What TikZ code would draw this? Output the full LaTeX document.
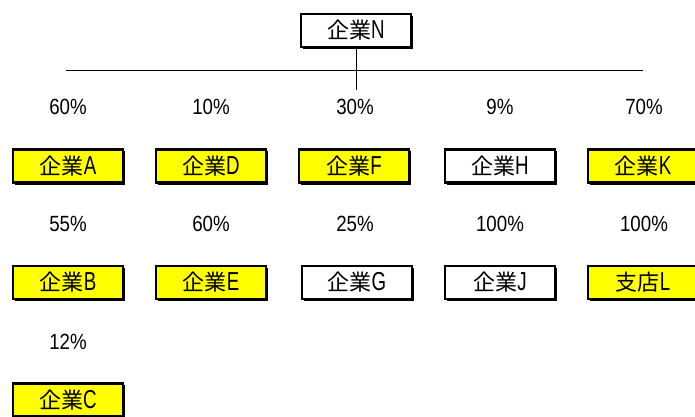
\documentclass[tikz,border=0pt]{standalone}
\usepackage{fontspec}
\newfontfamily\cjkf{Noto Sans CJK JP}
\newfontfamily\latf{Liberation Sans}[FakeStretch=0.72]
\newfontfamily\pctf{Liberation Sans}[FakeStretch=0.85]
\newcommand\lbl[2]{{\cjkf\fontsize{22}{23}\selectfont #1}{\latf\fontsize{26}{27}\selectfont #2}}
\definecolor{boxyellow}{RGB}{255,255,0}
\tikzset{
  company/.style={draw=black, line width=2.4pt, minimum width=110pt, minimum height=33pt,
    inner sep=0pt, outer sep=0pt, text=black},
  yel/.style={company, fill=boxyellow},
  wht/.style={company, fill=white},
  pct/.style={font=\pctf\fontsize{22}{22}\selectfont, inner sep=0pt},
  link/.style={draw=black, line width=1pt}
}
\begin{document}
\begin{tikzpicture}[x=1pt,y=-1pt]
\useasboundingbox (0,0) rectangle (695,416);
\fill[white] (0,0) rectangle (695,416);
% shadows
\foreach \cx/\cy in {356/30.5,68/166,211/166,354/166,500/166,643/166,68/282.5,211/282.5,357/282.5,500/282.5,643/282.5,68/400}{
  \fill[black] (\cx-55+1.5,\cy-16.5+1.5) rectangle (\cx+55+2,\cy+16.5+2);
}
\node[wht] (N) at (356,30.5) {\lbl{企業}{N}};
\coordinate (hl) at (66,70);
\coordinate (hr) at (643,70);
\coordinate (vb) at (356,90);
\draw[link] (hl) -- (hr);
\draw[link] (N.south) -- (vb);

\node[pct] (pA) at (68,107) {60\%};
\node[pct] (pD) at (211,107) {10\%};
\node[pct] (pF) at (355,107) {30\%};
\node[pct] (pH) at (500,107) {9\%};
\node[pct] (pK) at (644,107) {70\%};

\node[yel] (A) at (68,166) {\lbl{企業}{A}};
\node[yel] (D) at (211,166) {\lbl{企業}{D}};
\node[yel] (F) at (354,166) {\lbl{企業}{F}};
\node[wht] (H) at (500,166) {\lbl{企業}{H}};
\node[yel] (K) at (643,166) {\lbl{企業}{K}};

\node[pct] (pB) at (68,224) {55\%};
\node[pct] (pE) at (211,224) {60\%};
\node[pct] (pG) at (355,224) {25\%};
\node[pct] (pJ) at (500,224) {100\%};
\node[pct] (pL) at (644,224) {100\%};

\node[yel] (B) at (68,282.5) {\lbl{企業}{B}};
\node[yel] (E) at (211,282.5) {\lbl{企業}{E}};
\node[wht] (G) at (357,282.5) {\lbl{企業}{G}};
\node[wht] (J) at (500,282.5) {\lbl{企業}{J}};
\node[yel] (L) at (643,282.5) {\lbl{支店}{L}};

\node[pct] (pC) at (68,342) {12\%};
\node[yel] (C) at (68,400) {\lbl{企業}{C}};
\end{tikzpicture}
\end{document}
